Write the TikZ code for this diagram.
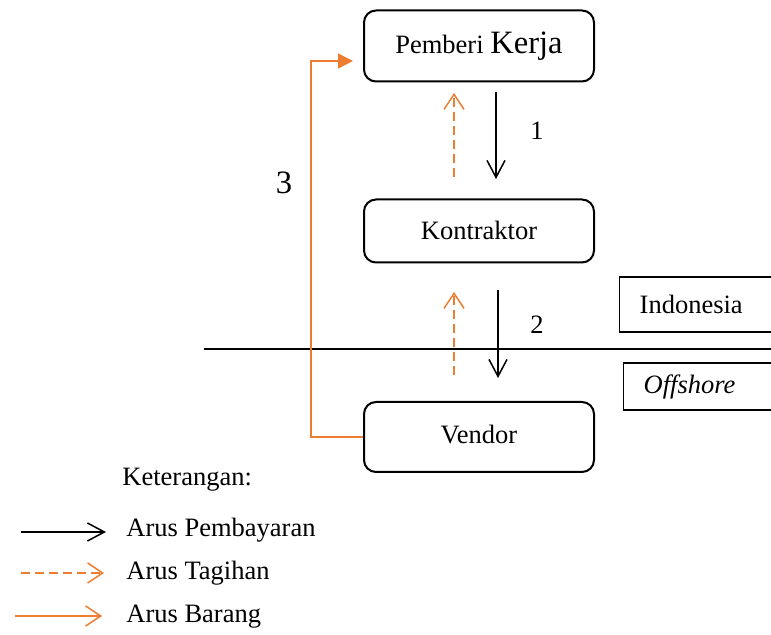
\documentclass[tikz,border=0pt]{standalone}
\usepackage{fontspec}
\setmainfont{Liberation Serif}
\usetikzlibrary{arrows.meta}
\definecolor{org}{HTML}{ED7D31}
\begin{document}
\begin{tikzpicture}[x=0.5pt,y=-0.5pt,
  txt/.style={font=\fontsize{13.25}{15}\selectfont},
  box/.style={draw, line width=1pt, rounded corners=6pt, minimum width=115pt, inner sep=0pt, txt},
  lbl/.style={inner sep=0pt, txt},
  flag/.style={draw, line width=0.7pt, anchor=west, inner xsep=10pt, inner ysep=0pt, align=left, txt},
  pay/.style={line width=0.75pt, -{Straight Barb[length=8.5pt,width=9pt,line width=0.75pt]}},
  bill/.style={org, line width=0.75pt, dash pattern=on 4.5pt off 2.5pt, -{Straight Barb[length=7.5pt,width=10pt,line width=0.75pt]}},
  goods/.style={org, line width=0.65pt, -{Triangle[length=7.5pt,width=7.5pt]}},
  goodsleg/.style={org, line width=0.75pt, -{Straight Barb[length=7.5pt,width=10pt,line width=0.75pt]}},
]
\useasboundingbox (0,0) rectangle (771,635);
\clip (0,0) rectangle (771,635);

% main boxes
\node[box, minimum height=35.5pt] (pk) at (479,46) {Pemberi {\fontsize{16.3}{18}\selectfont Kerja}};
\node[box, minimum height=31.5pt] (kt) at (479,231) {\raisebox{0.5pt}{Kontraktor}};
\node[box, minimum height=35pt] (vd) at (479,437) {\raisebox{2.5pt}{Vendor}};

% region boxes
\node[flag, minimum height=27.5pt, text width=60pt] (ind) at (619,304.5) {Indonesia};
\node[flag, minimum height=23.5pt, text width=60pt] (off) at (623,386.5) {\textit{Offshore}};

% separator line
\coordinate (sepL) at (204,349);
\coordinate (sepR) at (771,349);
\draw[line width=0.6pt] (sepL) -- (sepR);

% payment arrows
\coordinate (p1s) at (496,92);  \coordinate (p1e) at (496,179);
\coordinate (p2s) at (498,290); \coordinate (p2e) at (498,378);
\draw[pay] (p1s) -- (p1e);
\draw[pay] (p2s) -- (p2e);

% billing arrows
\coordinate (b1s) at (454,177); \coordinate (b1e) at (454,93);
\coordinate (b2s) at (454,375); \coordinate (b2e) at (454,292);
\draw[bill] (b1s) -- (b1e);
\draw[bill] (b2s) -- (b2e);

% goods path
\coordinate (g1) at (311,437);
\coordinate (g2) at (311,61);
\coordinate (g3) at (353,61);
\draw[goods] (vd.west) -- (g1) -- (g2) -- (g3);

% labels
\node[lbl] (n1) at (537,131) {1};
\node[lbl] (n2) at (537,325) {2};
\node[lbl, font=\fontsize{16.3}{18}\selectfont] (n3) at (284,183) {3};

% legend
\node[lbl, anchor=west] (ket) at (122,480) {Keterangan:};
\coordinate (l1s) at (21,532);  \coordinate (l1e) at (106,532);
\coordinate (l2s) at (21,573);  \coordinate (l2e) at (104,573);
\coordinate (l3s) at (15,616);  \coordinate (l3e) at (102,616);
\draw[pay] (l1s) -- (l1e);
\draw[bill] (l2s) -- (l2e);
\draw[goodsleg] (l3s) -- (l3e);
\node[lbl, anchor=west] (t1) at (126,530) {Arus Pembayaran};
\node[lbl, anchor=west] (t2) at (126,573) {Arus Tagihan};
\node[lbl, anchor=west] (t3) at (126,617) {Arus Barang};
\end{tikzpicture}
\end{document}
